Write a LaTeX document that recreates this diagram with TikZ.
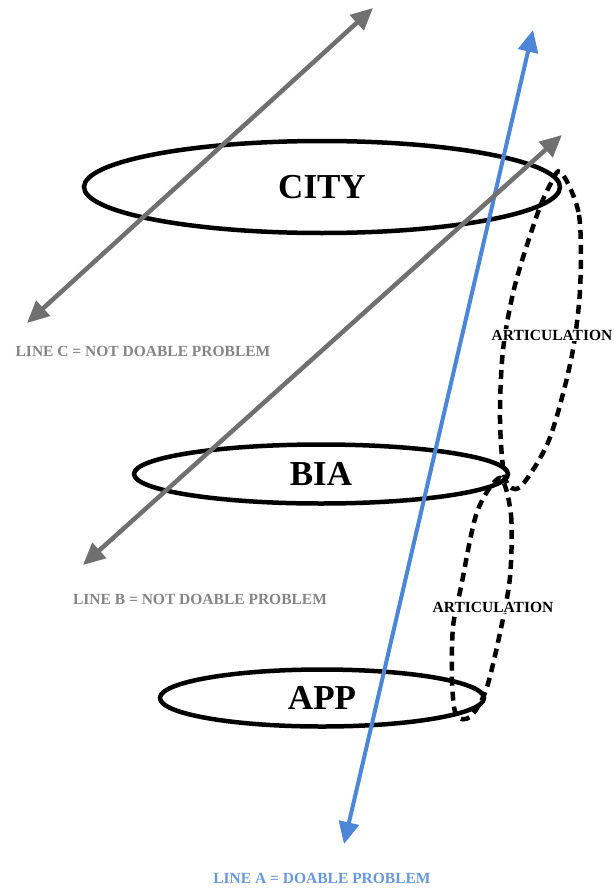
\documentclass[tikz,border=0pt]{standalone}
\usepackage{fontspec}
\setmainfont{Liberation Serif}
\usetikzlibrary{shapes.geometric,arrows.meta}
\definecolor{lgray}{RGB}{112,112,112}
\definecolor{lblue}{RGB}{76,134,216}
\begin{document}
\begin{tikzpicture}[x=1pt,y=-1pt,
  level/.style={ellipse,draw,line width=4.5pt,inner sep=0pt,font=\fontsize{35}{40}\selectfont\bfseries},
  artic/.style={dash pattern=on 9pt off 6pt,line width=4.5pt},
  tag/.style={fill=white,inner sep=1pt,font=\fontsize{15.5}{18}\selectfont\bfseries},
  twoway/.style={{Triangle[length=22pt,width=20pt]}-{Triangle[length=22pt,width=20pt]},line width=4.5pt}]
              \useasboundingbox (0,0) rectangle (613,888);
              \node[level,minimum width=476,minimum height=92](city)at(322,187){CITY};
              \node[level,minimum width=374,minimum height=59](bia)at(321,474){BIA};
              \node[level,minimum width=324,minimum height=57](app)at(322,698){APP};
              \draw[artic] plot[smooth cycle] coordinates{(561,172)(579,215)(580,290)(571,360)(549,440)(520,487)(505,478)(500,420)(503,350)(515,285)(537,215)(550,185)};
              \draw[artic] plot[smooth cycle] coordinates{(500,478)(511,515)(510,577)(500,633)(486,690)(470,717)(456,715)(452,680)(453,627)(461,587)(477,512)};
              \node[tag](t1)at(552,335){ARTICULATION};
              \node[tag](t2)at(493,607){ARTICULATION};
              \coordinate(a1)at(344,844);\coordinate(a2)at(533,30);
              \coordinate(b1)at(83,565);\coordinate(b2)at(562,135);
              \coordinate(c1)at(27,323);\coordinate(c2)at(373,8);
              \draw[twoway,lblue,line width=4pt](a1)--(a2);
              \draw[twoway,lgray](b1)--(b2);
              \draw[twoway,lgray](c1)--(c2);
              \node[font=\fontsize{15.5}{18}\selectfont\bfseries,text=lgray!85](lc)at(143,351){LINE C = NOT DOABLE PROBLEM};
              \node[font=\fontsize{15.5}{18}\selectfont\bfseries,text=lgray!85](lb)at(200,599){LINE B = NOT DOABLE PROBLEM};
              \node[font=\fontsize{15.5}{18}\selectfont\bfseries,text=lblue!85](la)at(322,878){LINE A = DOABLE PROBLEM};
            \end{tikzpicture}
\end{document}
